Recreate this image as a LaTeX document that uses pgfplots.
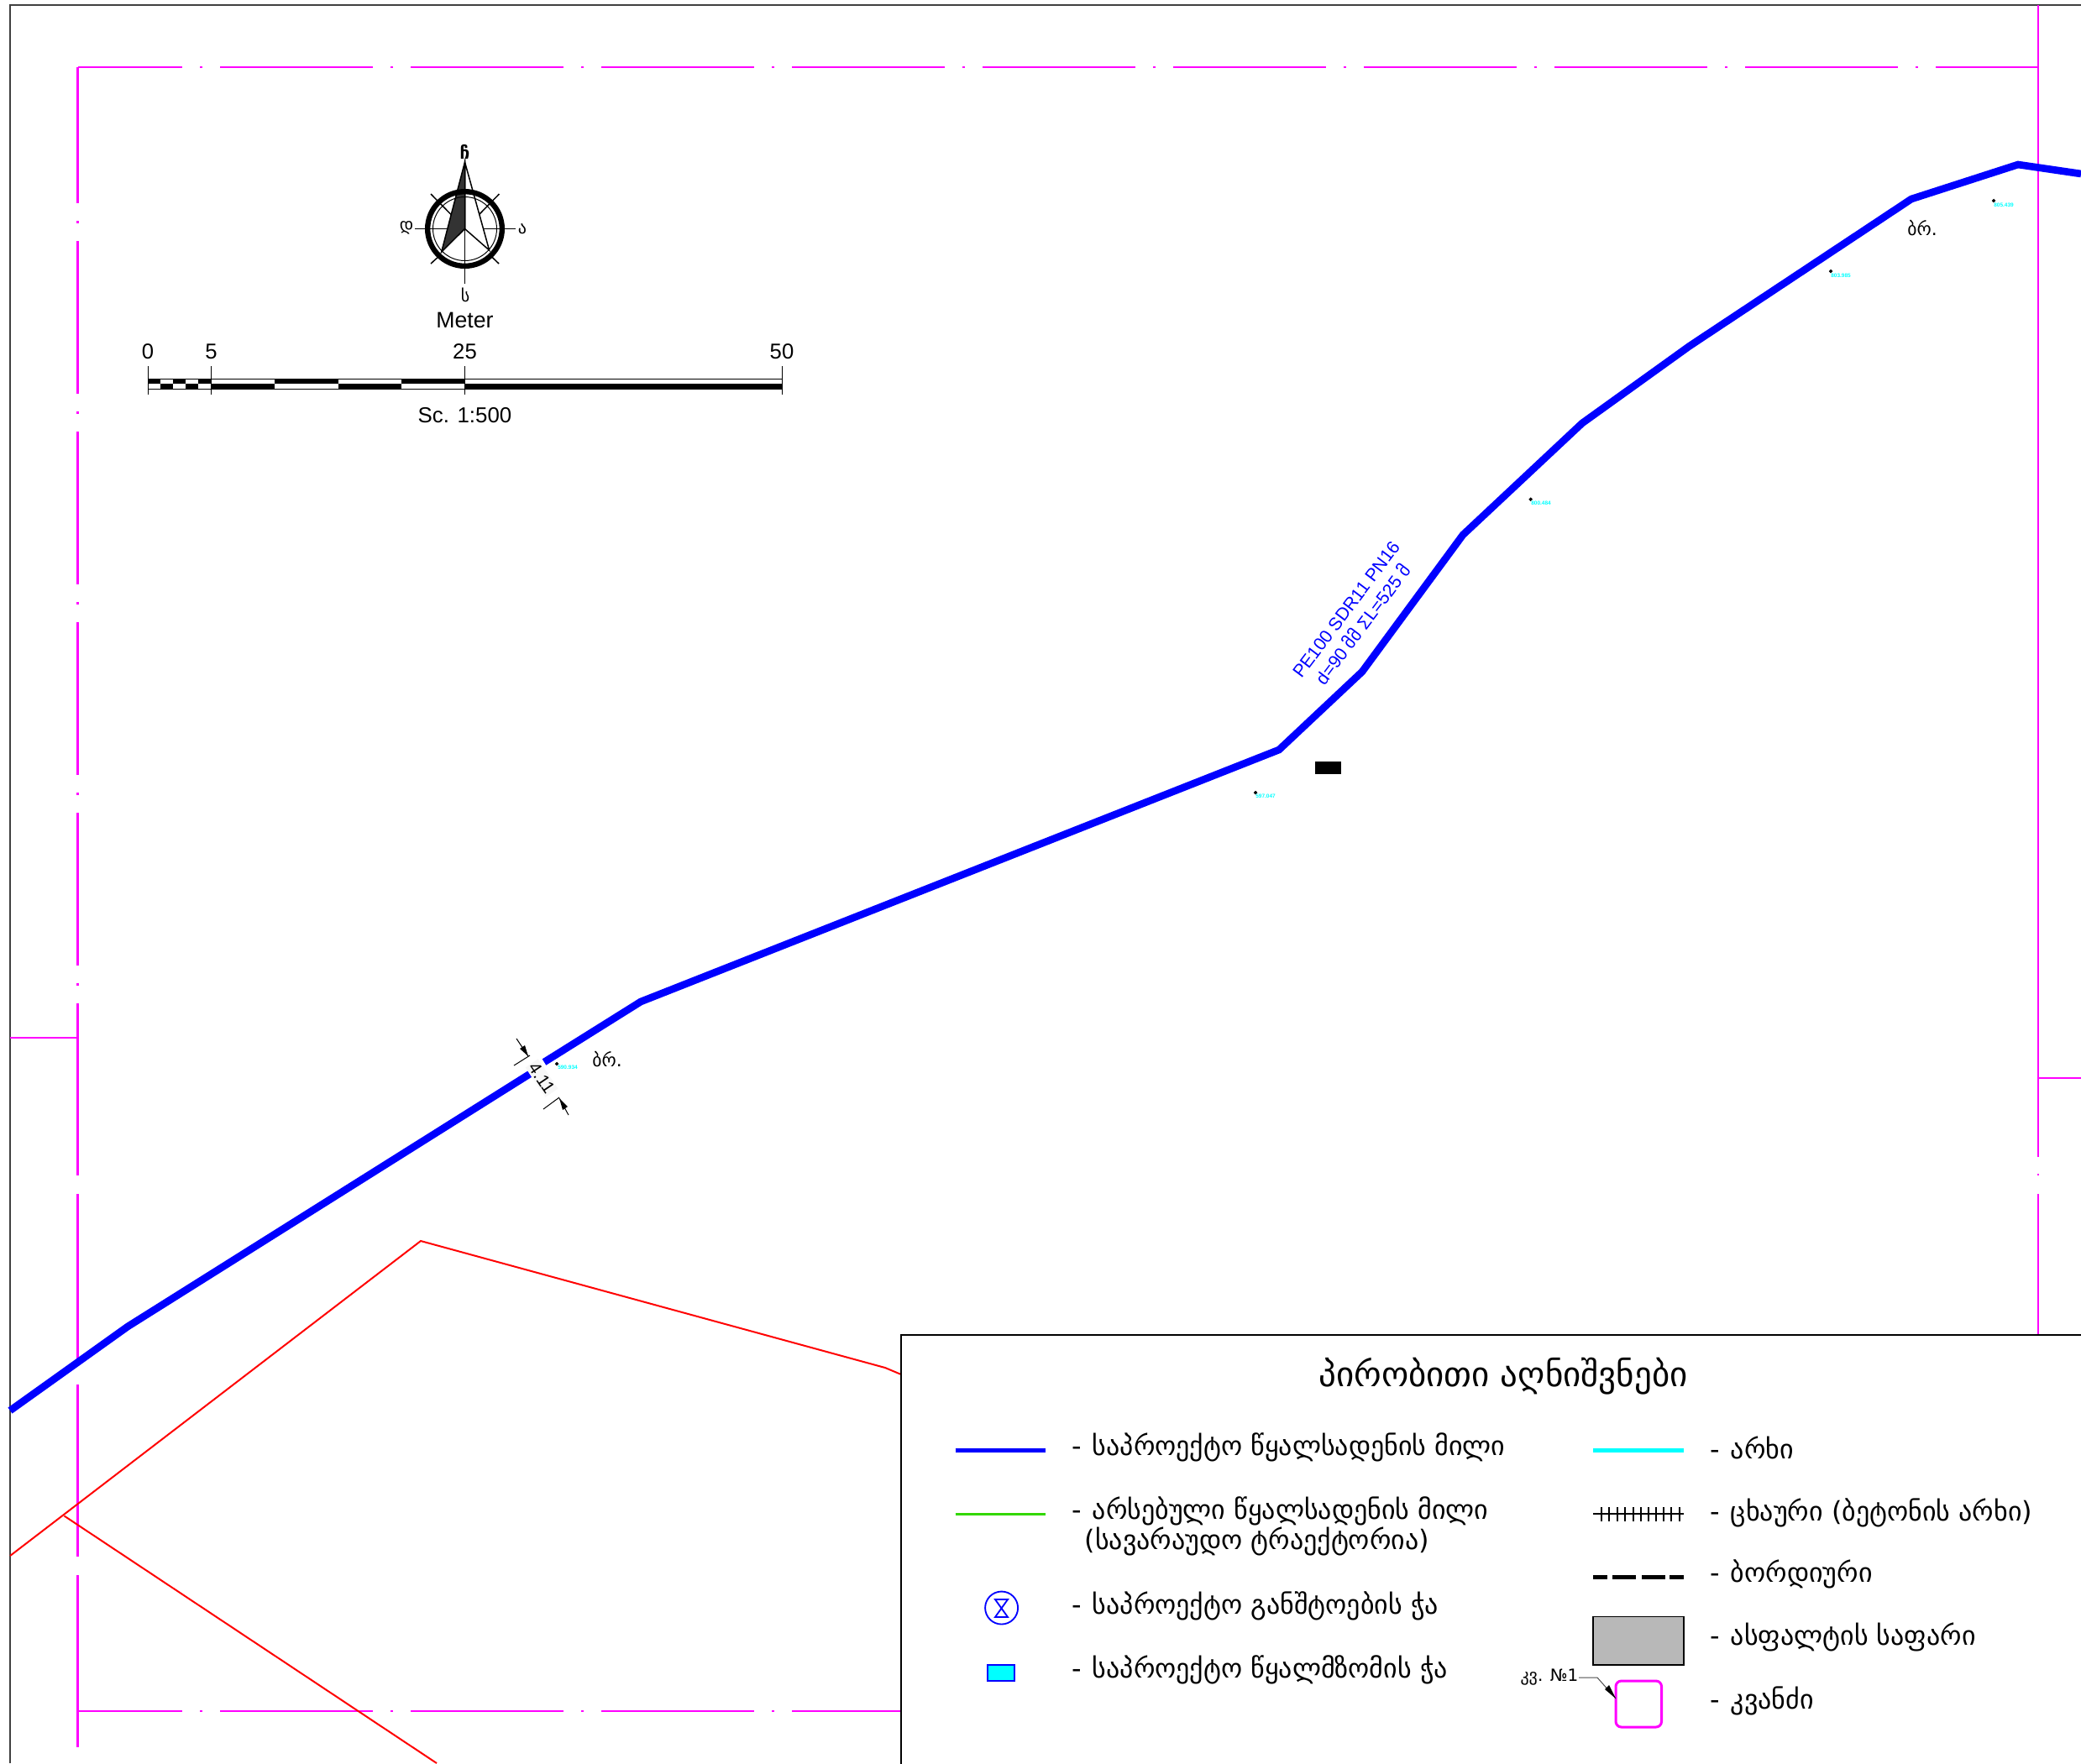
\documentclass[border=0pt]{standalone}
\usepackage{fontspec}
\usepackage{pgfplots}
\pgfplotsset{compat=1.18}
\setmainfont{Liberation Sans}
\newfontfamily\geo{DejaVu Sans}
\definecolor{mag}{RGB}{255,0,255}
\definecolor{aqua}{RGB}{0,255,255}
\definecolor{pipe}{RGB}{0,0,255}
\definecolor{grn}{RGB}{50,215,0}
\definecolor{sheet}{RGB}{64,64,64}
% 1 px of the reference = 0.3pt
\newcommand{\seg}[2]{\addplot[#1] coordinates {#2};}
\newcommand{\rct}[5]{\addplot[#1] coordinates {(#2,#3)(#4,#3)(#4,#5)(#2,#5)} --cycle;}
\newcommand{\bk}[4]{\rct{draw=none,fill=black}{#1}{#2}{#3}{#4}}
\newcommand{\gtxt}[4]{\node[anchor=west,inner sep=0pt] at (axis cs:#1,#2) {\geo\fontsize{#3}{#3}\selectfont #4};}
\newcommand{\elev}[5]{\seg{only marks,mark=*,mark size=0.4pt,black}{(#1,#2)}
  \node[inner sep=0pt,text=aqua] at (axis cs:#3,#4) {\fontsize{1.95}{2}\selectfont\textbf{#5}};}
\tikzset{dd/.style={mag,dash pattern=on 54.6pt off 6.3pt on 0.9pt off 6.3pt}}
\begin{document}
\begin{tikzpicture}
\begin{axis}[
    at={(0pt,0pt)}, anchor=south west,
    scale only axis, width=743.4pt, height=630pt,
    xmin=0, xmax=2478, ymin=0, ymax=2100, y dir=reverse,
    hide axis, clip=true
]
% sheet frame
\seg{sheet,line width=0.6pt}{(12,2100)(12,6)(2478,6)}
% magenta viewport lines
\seg{dd,line width=0.8pt,dash phase=17.4pt}{(93,80)(2427,80)}
\seg{dd,line width=0.65pt,dash phase=6pt}{(92.5,80)(92.5,1174)}
\seg{mag,line width=0.65pt}{(92.5,1195)(92.5,1400)}
\seg{mag,line width=0.65pt}{(92.5,1422)(92.5,1627)}
\seg{mag,line width=0.65pt}{(92.5,1649)(92.5,1854)}
\seg{mag,line width=0.65pt}{(92.5,1876)(92.5,2081)}
\seg{mag,line width=0.5pt}{(12,1236)(92.5,1236)}
\seg{dd,line width=0.8pt,dash phase=17.4pt}{(93,2038)(1073,2038)}
\seg{mag,line width=0.75pt}{(2427,6)(2427,1378)}
\seg{mag,line width=0.75pt}{(2427,1398)(2427,1400)}
\seg{mag,line width=0.75pt}{(2427,1422)(2427,1591)}
\seg{mag,line width=0.75pt}{(2427,1284)(2478,1284)}
% red boundary
\seg{red,line width=0.6pt}{(12,1853)(501,1478)(1054,1629)(1073,1637)}
\seg{red,line width=0.6pt}{(76.5,1805.5)(520,2100)}
% pipe with the gap at the dimension
\seg{pipe,line width=2.6pt}{(12,1680)(152,1580)(631,1279)}
\seg{pipe,line width=2.6pt}{(648,1265)(763,1193)(1523,893)(1622,800)(1742,637)(1884,504)(2012,412)(2276,237)(2403,196)(2478,207)}
% dimension 4.11
\seg{black,line width=0.3pt}{(612,1269)(631,1257)}
\seg{black,line width=0.3pt}{(615,1237)(629,1258)}
\addplot[draw=none,fill=black] coordinates {(629,1258)(619,1249)(625,1245)} --cycle;
\seg{black,line width=0.3pt}{(647,1321)(666,1307)}
\seg{black,line width=0.3pt}{(677,1328)(666,1308)}
\addplot[draw=none,fill=black] coordinates {(666,1308)(670,1322)(676,1318)} --cycle;
\node[rotate=-56,inner sep=0.6pt,fill=black!3] at (axis cs:645,1284) {\fontsize{6.2}{7}\selectfont 4.11};
% pipe label
\node[rotate=53,inner sep=0pt,text=pipe] at (axis cs:1603,726) {\fontsize{6.4}{7}\selectfont PE100 SDR11 PN16};
\node[rotate=53,inner sep=0pt,text=pipe] at (axis cs:1622,743) {\fontsize{6.4}{7}\selectfont d=90 {\geo მმ} ΣL=525 {\geo მ}};
% building
\bk{1566}{907}{1597}{922}
% spot levels
\elev{663}{1267}{676}{1271}{590.934}
\elev{1495}{944}{1507}{948}{597.047}
\elev{1822.7}{594.7}{1835}{599}{800.484}
\elev{2180}{323}{2192}{328}{803.985}
\elev{2374}{239}{2386}{244}{805.439}
\node[anchor=center,inner sep=0pt] at (axis cs:723,1262) {\geo\fontsize{6.5}{7}\selectfont ბრ.};
\node[anchor=center,inner sep=0pt] at (axis cs:2289,272) {\geo\fontsize{6.5}{7}\selectfont ბრ.};
% north arrow
\addplot[only marks,mark=o,mark size=13.3pt,mark options={line width=1.9pt,draw=black}] coordinates {(553.5,272.5)};
\addplot[only marks,mark=o,mark size=11.4pt,mark options={line width=0.3pt,draw=black}] coordinates {(553.5,272.5)};
\seg{black,line width=0.45pt}{(494,272.5)(533,272.5)}
\seg{black,line width=0.45pt}{(575,272.5)(613.5,272.5)}
\seg{black,line width=0.45pt}{(553.5,272.5)(553.5,338)}
\seg{black,line width=0.45pt}{(513,231)(537.6,256)}
\seg{black,line width=0.45pt}{(594.5,231)(570,256)}
\seg{black,line width=0.45pt}{(513,314)(525,303)}
\seg{black,line width=0.45pt}{(594,314)(582.6,303)}
\addplot[black,line width=0.45pt,fill=white] coordinates {(553.5,193)(582.6,298)(553.5,272.5)} --cycle;
\addplot[black,line width=0.45pt,fill=black!80] coordinates {(553.5,193)(525.7,300)(553.5,272.5)} --cycle;
\node[anchor=south,inner sep=0pt] at (axis cs:553.5,190) {\geo\bfseries\fontsize{6.2}{7}\selectfont ჩ};
\node[inner sep=0pt] at (axis cs:554,351) {\geo\fontsize{6}{7}\selectfont ს};
\node[inner sep=0pt] at (axis cs:484,271) {\geo\fontsize{6}{7}\selectfont დ};
\node[inner sep=0pt] at (axis cs:622,273) {\geo\fontsize{6}{7}\selectfont ა};
\node[inner sep=0pt] at (axis cs:553.5,381) {\fontsize{8}{9}\selectfont Meter};
% scale bar
\seg{black,line width=0.3pt}{(176,451)(931,451)}
\seg{black,line width=0.3pt}{(176,463)(931,463)}
\seg{black,line width=0.3pt}{(176,436)(176,470)}
\seg{black,line width=0.3pt}{(251.5,436)(251.5,470)}
\seg{black,line width=0.3pt}{(553.5,436)(553.5,470)}
\seg{black,line width=0.3pt}{(931,436)(931,470)}
\bk{176}{451}{191}{457}\bk{206}{451}{221}{457}\bk{236}{451}{251.5}{457}
\bk{327}{451}{402.5}{457}\bk{478}{451}{553.5}{457}
\bk{191}{457}{206}{463}\bk{221}{457}{236}{463}
\bk{251.5}{457}{327}{463}\bk{402.5}{457}{478}{463}\bk{553.5}{457}{931}{463}
\node[inner sep=0pt] at (axis cs:176,419) {\fontsize{7.7}{8}\selectfont 0};
\node[inner sep=0pt] at (axis cs:251.5,419) {\fontsize{7.7}{8}\selectfont 5};
\node[inner sep=0pt] at (axis cs:553.5,419) {\fontsize{7.7}{8}\selectfont 25};
\node[inner sep=0pt] at (axis cs:931,419) {\fontsize{7.7}{8}\selectfont 50};
\node[inner sep=0pt] at (axis cs:553.5,495) {\fontsize{7.75}{8}\selectfont Sc. 1:500};
% legend panel
\rct{black,line width=0.45pt,fill=white}{1073}{1590}{2500}{2120}
\node[inner sep=0pt] at (axis cs:1790,1639) {\geo\fontsize{12.3}{13}\selectfont პირობითი აღნიშვნები};
\seg{pipe,line width=1.5pt}{(1137.5,1727.7)(1245,1727.7)}
\seg{grn,line width=0.9pt}{(1137.5,1803)(1245,1803)}
\addplot[only marks,mark=o,mark size=5.85pt,mark options={line width=0.55pt,draw=pipe}] coordinates {(1192.6,1915)};
\addplot[pipe,line width=0.55pt] coordinates {(1185,1905)(1200,1905)(1185,1926)(1200,1926)} --cycle;
\rct{pipe,line width=0.6pt,fill=aqua}{1175.5}{1982.5}{1207.5}{2002}
\seg{aqua,line width=1.5pt}{(1897,1727.7)(2005,1727.7)}
\seg{black,line width=0.6pt}{(1897,1803)(2005,1803)}
\seg{black,line width=0.6pt}{(1907,1795)(1907,1812)}
\seg{black,line width=0.6pt}{(1916,1795)(1916,1812)}
\seg{black,line width=0.6pt}{(1926,1795)(1926,1812)}
\seg{black,line width=0.6pt}{(1935,1795)(1935,1812)}
\seg{black,line width=0.6pt}{(1945,1795)(1945,1812)}
\seg{black,line width=0.6pt}{(1954,1795)(1954,1812)}
\seg{black,line width=0.6pt}{(1963,1795)(1963,1812)}
\seg{black,line width=0.6pt}{(1972,1795)(1972,1812)}
\seg{black,line width=0.6pt}{(1981,1795)(1981,1812)}
\seg{black,line width=0.6pt}{(1990,1795)(1990,1812)}
\seg{black,line width=0.6pt}{(2000,1795)(2000,1812)}
\bk{1897}{1875.5}{1913.5}{1880.5}\bk{1920}{1875.5}{1948}{1880.5}
\bk{1954.5}{1875.5}{1982.5}{1880.5}\bk{1988}{1875.5}{2005}{1880.5}
\rct{black,line width=0.4pt,fill=black!28}{1897}{1925.7}{2005}{1983}
\addplot[mag,line width=0.9pt,rounded corners=2pt] coordinates {(1924,2002)(1978.5,2002)(1978.5,2057)(1924,2057)} --cycle;
\seg{black!70,line width=0.3pt}{(1880,1998)(1902,1998)(1924,2023)}
\addplot[draw=none,fill=black] coordinates {(1924,2023)(1911,2012)(1916,2007)} --cycle;
\node[anchor=east,inner sep=0pt] at (axis cs:1880,1998) {\geo\fontsize{6}{7}\selectfont კვ. №1};
% legend texts
\gtxt{1276}{1724}{9.6}{-\hspace{3.8pt}საპროექტო წყალსადენის მილი}
\gtxt{1276}{1800}{9.6}{-\hspace{3.8pt}არსებული წყალსადენის მილი}
\gtxt{1291}{1836}{9.6}{(სავარაუდო ტრაექტორია)}
\gtxt{1276}{1913}{9.6}{-\hspace{3.8pt}საპროექტო განშტოების ჭა}
\gtxt{1276}{1989}{9.6}{-\hspace{3.8pt}საპროექტო წყალმზომის ჭა}
\gtxt{2036}{1724}{9.6}{-\hspace{3.8pt}არხი}
\gtxt{2036}{1802}{9.6}{-\hspace{3.8pt}ცხაური (ბეტონის არხი)}
\gtxt{2036}{1875}{9.6}{-\hspace{3.8pt}ბორდიური}
\gtxt{2036}{1950}{9.6}{-\hspace{3.8pt}ასფალტის საფარი}
\gtxt{2036}{2026}{9.6}{-\hspace{3.8pt}კვანძი}
\end{axis}
% hide axis leaves the page as small as what was drawn
\pgfresetboundingbox
\path[use as bounding box] (0pt,0pt) rectangle (743.4pt,630pt);
\end{tikzpicture}
\end{document}
